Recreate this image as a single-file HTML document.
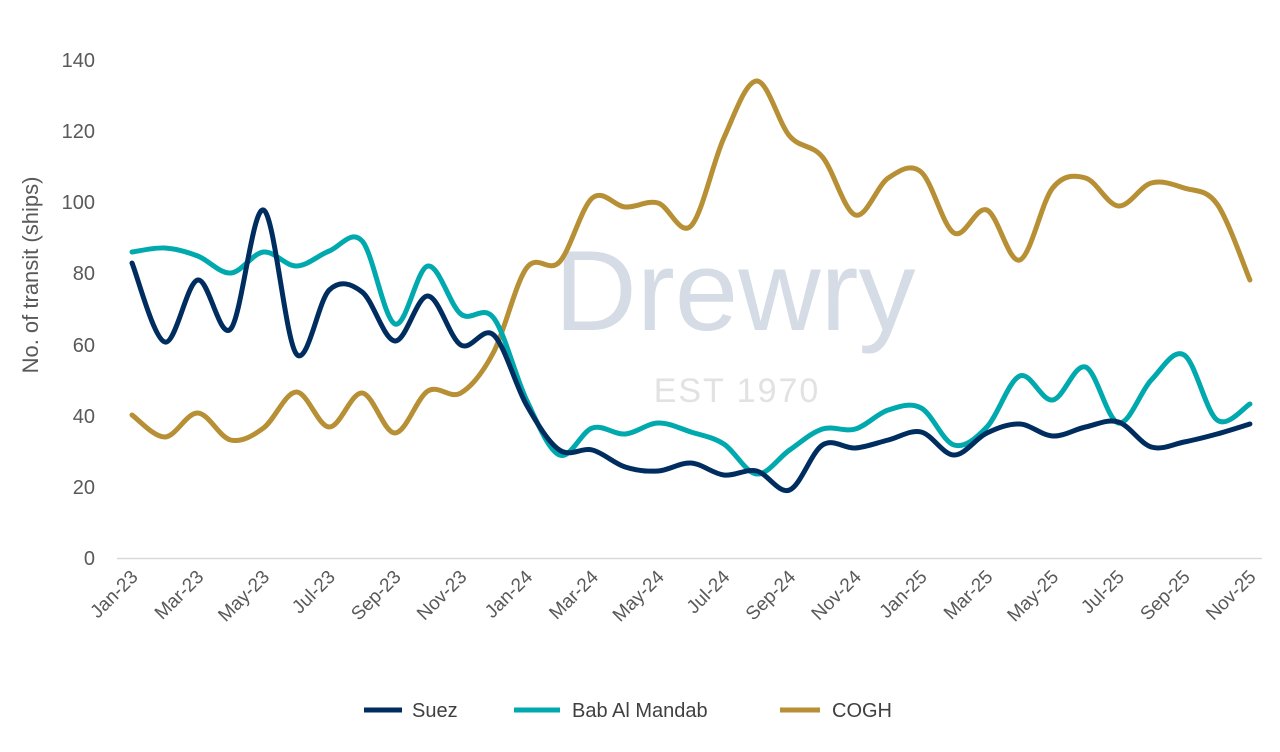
<!DOCTYPE html>
<html><head><meta charset="utf-8"><style>
html,body{margin:0;padding:0;background:#fff;}
svg{display:block;font-family:"Liberation Sans",Arial,sans-serif;}
</style></head><body>
<svg id="c" width="1280" height="752" viewBox="0 0 1280 752">
<text x="735" y="330" text-anchor="middle" font-size="114" fill="#d5dce5">Drewry</text>
<text x="737" y="402" text-anchor="middle" font-size="34" fill="#e2e2e2" letter-spacing="2">EST 1970</text>
<line x1="117" y1="558.5" x2="1262" y2="558.5" stroke="#d9d9d9" stroke-width="1.5"/>
<g font-size="20" fill="#595959" text-anchor="end">
<text x="95" y="565">0</text><text x="95" y="494">20</text><text x="95" y="423">40</text>
<text x="95" y="352">60</text><text x="95" y="280">80</text><text x="95" y="209">100</text>
<text x="95" y="138">120</text><text x="95" y="67">140</text>
</g>
<text transform="translate(38,275) rotate(-90)" text-anchor="middle" font-size="22" fill="#595959">No. of transit (ships)</text>
<g id="xl" font-size="19" fill="#595959" text-anchor="end"></g>
<g id="lines" fill="none" stroke-width="5" stroke-linecap="round" stroke-linejoin="round"></g>
<g font-size="20" fill="#404040">
<line x1="364" y1="710" x2="402" y2="710" stroke="#002d5f" stroke-width="5"/><text x="412" y="717">Suez</text>
<line x1="514" y1="710" x2="560" y2="710" stroke="#00a9ad" stroke-width="5"/><text x="572" y="717">Bab Al Mandab</text>
<line x1="780" y1="710" x2="820" y2="710" stroke="#b78f34" stroke-width="5"/><text x="832" y="717">COGH</text>
</g>
</svg>
<script>
var ns="http://www.w3.org/2000/svg";
function X(i){return 132+32.88*i;}
var labels=["Jan-23","Mar-23","May-23","Jul-23","Sep-23","Nov-23","Jan-24","Mar-24","May-24","Jul-24","Sep-24","Nov-24","Jan-25","Mar-25","May-25","Jul-25","Sep-25","Nov-25"];
var xl=document.getElementById("xl");
labels.forEach(function(l,k){var t=document.createElementNS(ns,"text");var x=X(2*k)+7,y=578;
t.setAttribute("transform","translate("+x+","+y+") rotate(-45)");t.textContent=l;xl.appendChild(t);});
var S=[263,342,280,329,210,354,290,292,341,296,345,335,405,450,450,467,471,463,475,471,490,445,448,440,432,455,433,424,436,427,422,447,442,434,424];
var B=[252,248,256,273,252,266,251,241,324,266,314,318,400,455,428,434,423,432,444,474,450,429,429,410,408,445,427,376,400,367,423,380,355,420,404];
var C=[415,437,413,440,428,392,427,393,433,391,393,352,268,262,198,207,203,226,138,81,136,157,215,178,172,233,210,260,188,178,206,183,188,204,280];
function path(a){var p=a.map(function(y,i){return[X(i),y]});var d="M"+p[0][0]+","+p[0][1];
for(var i=0;i<p.length-1;i++){var p0=p[i-1]||p[i],p1=p[i],p2=p[i+1],p3=p[i+2]||p2;
var t=6;d+=" C"+(p1[0]+(p2[0]-p0[0])/t)+","+(p1[1]+(p2[1]-p0[1])/t)+" "+(p2[0]-(p3[0]-p1[0])/t)+","+(p2[1]-(p3[1]-p1[1])/t)+" "+p2[0]+","+p2[1];}
return d;}
var g=document.getElementById("lines");
[[C,"#b78f34"],[B,"#00a9ad"],[S,"#002d5f"]].forEach(function(s){var e=document.createElementNS(ns,"path");e.setAttribute("d",path(s[0]));e.setAttribute("stroke",s[1]);g.appendChild(e);});
</script>
</body></html>
